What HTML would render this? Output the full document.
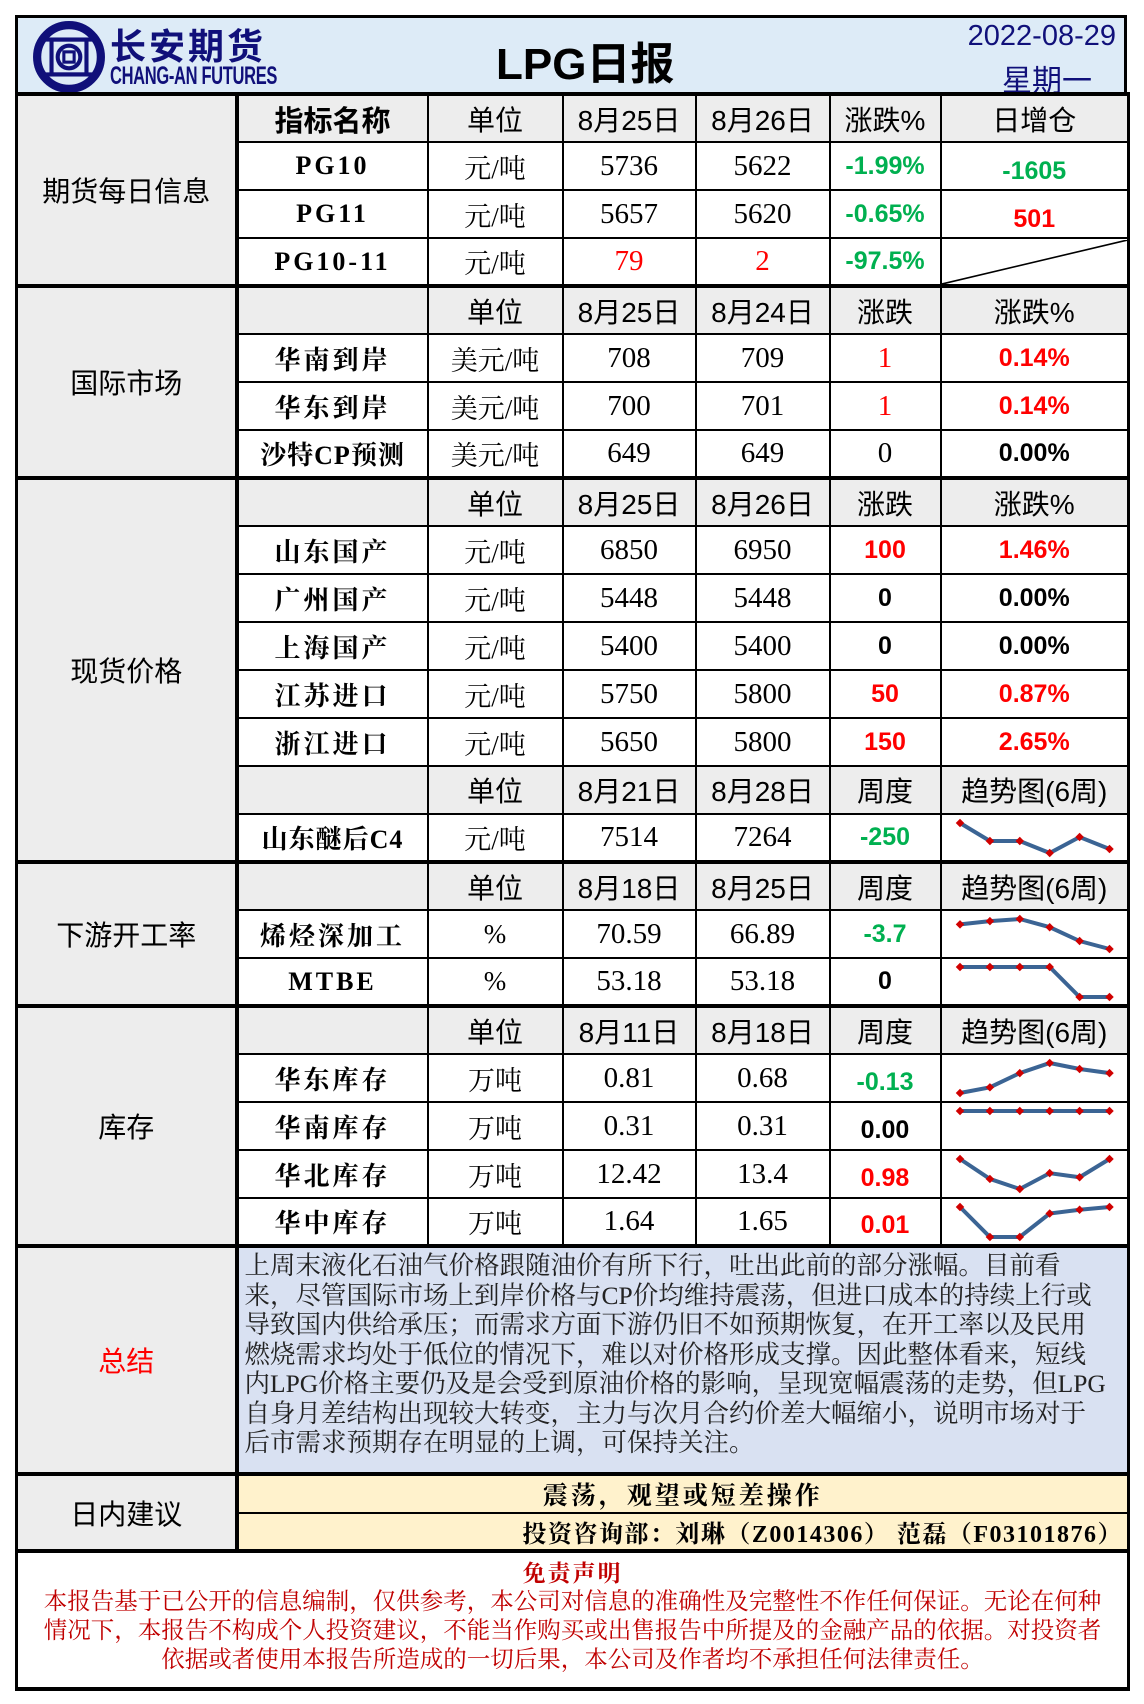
<!DOCTYPE html>
<html><head><meta charset="utf-8">
<style>
*{box-sizing:border-box;margin:0;padding:0}
body{width:1144px;height:1704px;background:#fff;position:relative;overflow:hidden;font-family:"Liberation Serif","Noto Serif CJK SC",serif;}
#hdr{position:absolute;left:15px;top:15px;width:1112px;height:80px;background:#ddebf7;border:3px solid #000;}
#tbl{position:absolute;left:15px;top:92px;width:1112px;border-collapse:collapse;table-layout:fixed;}
#tbl td{border:2px solid #000;height:48px;text-align:center;vertical-align:middle;padding:0;white-space:nowrap;overflow:hidden;}
#tbl tr.sec td{border-top:4px solid #000;}
#tbl td.lab{background:#ededed;font-family:"Liberation Sans","Noto Sans CJK SC",sans-serif;font-size:28px;border-left:3px solid #000;border-right:4px solid #000;}
#tbl td.last{border-right:3px solid #000;}
.h{background:#ededed;font-family:"Liberation Sans","Noto Sans CJK SC",sans-serif;font-size:28px;}
.nm{font-family:"Liberation Serif","Noto Serif CJK SC",serif;font-weight:bold;font-size:26px;letter-spacing:3px;}
.u{font-size:27px;font-family:"Liberation Serif","Noto Serif CJK SC",serif;}
.n{font-size:29px;font-family:"Liberation Serif","Noto Serif CJK SC",serif;}
.p{font-family:"Liberation Sans",sans-serif;font-weight:bold;font-size:25px;}
.g{color:#00b050}.r{color:#ff0000}.k{color:#000}
.spark{display:block;width:100%;height:44px;}
</style></head><body>
<div id="hdr">
  <svg style="position:absolute;left:14px;top:2px" width="74" height="74" viewBox="0 0 72 72">
    <circle cx="36" cy="36" r="31" fill="none" stroke="#10107a" stroke-width="8"/>
    <rect x="19" y="19" width="34" height="34" fill="none" stroke="#10107a" stroke-width="4"/>
    <line x1="10" y1="19" x2="62" y2="19" stroke="#10107a" stroke-width="4"/>
    <line x1="10" y1="53" x2="62" y2="53" stroke="#10107a" stroke-width="4"/>
    <circle cx="36" cy="36" r="11" fill="none" stroke="#10107a" stroke-width="4"/>
    <rect x="31" y="31" width="10" height="10" fill="none" stroke="#10107a" stroke-width="3"/>
  </svg>
  <div style="position:absolute;left:92px;top:0px;font-family:'Liberation Sans','Noto Sans CJK SC',sans-serif;font-weight:bold;font-size:36px;color:#10107a;letter-spacing:3px">长安期货</div>
  <div style="position:absolute;left:92px;top:44px;font-family:'Liberation Sans',sans-serif;font-weight:bold;font-size:25px;color:#10107a;transform:scaleX(0.66);transform-origin:left;letter-spacing:-0.5px;white-space:nowrap">CHANG-AN FUTURES</div>
  <div style="position:absolute;left:478px;top:10px;font-family:'Liberation Sans','Noto Sans CJK SC',sans-serif;font-weight:bold;font-size:44px;color:#000">LPG日报</div>
  <div style="position:absolute;right:8px;top:2px;font-family:'Liberation Sans',sans-serif;font-size:29px;color:#10107a">2022-08-29</div>
  <div style="position:absolute;right:32px;top:38px;font-family:'Liberation Sans','Noto Sans CJK SC',sans-serif;font-size:30px;color:#10107a">星期一</div>
</div>

<table id="tbl">
<colgroup><col style="width:220px"><col style="width:191px"><col style="width:135px"><col style="width:133px"><col style="width:134px"><col style="width:111px"><col style="width:188px"></colgroup>
<tr class="sec">
<td class="lab" rowspan="4">期货每日信息</td>
<td class="h" style="font-weight:bold;font-size:29px">指标名称</td><td class="h">单位</td><td class="h">8月25日</td><td class="h">8月26日</td><td class="h">涨跌%</td><td class="h last">日增仓</td></tr>
<tr><td class="nm">PG10</td><td class="u">元/吨</td><td class="n">5736</td><td class="n">5622</td><td class="p g">-1.99%</td><td class="p g last" style="padding-top:10px">-1605</td></tr>
<tr><td class="nm">PG11</td><td class="u">元/吨</td><td class="n">5657</td><td class="n">5620</td><td class="p g">-0.65%</td><td class="p r last" style="padding-top:10px">501</td></tr>
<tr><td class="nm">PG10-11</td><td class="u">元/吨</td><td class="n r">79</td><td class="n r">2</td><td class="p g">-97.5%</td><td class="last" style="position:relative"><svg width="100%" height="44" viewBox="0 0 100 44" preserveAspectRatio="none" style="display:block"><line x1="0" y1="44" x2="100" y2="0" stroke="#000" stroke-width="1.5"/></svg></td></tr>
<tr class="sec">
<td class="lab" rowspan="4">国际市场</td>
<td class="h"></td><td class="h">单位</td><td class="h">8月25日</td><td class="h">8月24日</td><td class="h">涨跌</td><td class="h last">涨跌%</td></tr>
<tr><td class="nm">华南到岸</td><td class="u">美元/吨</td><td class="n">708</td><td class="n">709</td><td class="n r">1</td><td class="p r last">0.14%</td></tr>
<tr><td class="nm">华东到岸</td><td class="u">美元/吨</td><td class="n">700</td><td class="n">701</td><td class="n r">1</td><td class="p r last">0.14%</td></tr>
<tr><td class="nm" style="letter-spacing:1px">沙特CP预测</td><td class="u">美元/吨</td><td class="n">649</td><td class="n">649</td><td class="n">0</td><td class="p k last">0.00%</td></tr>
<tr class="sec">
<td class="lab" rowspan="8">现货价格</td>
<td class="h"></td><td class="h">单位</td><td class="h">8月25日</td><td class="h">8月26日</td><td class="h">涨跌</td><td class="h last">涨跌%</td></tr>
<tr><td class="nm">山东国产</td><td class="u">元/吨</td><td class="n">6850</td><td class="n">6950</td><td class="p r">100</td><td class="p r last">1.46%</td></tr>
<tr><td class="nm">广州国产</td><td class="u">元/吨</td><td class="n">5448</td><td class="n">5448</td><td class="p k">0</td><td class="p k last">0.00%</td></tr>
<tr><td class="nm">上海国产</td><td class="u">元/吨</td><td class="n">5400</td><td class="n">5400</td><td class="p k">0</td><td class="p k last">0.00%</td></tr>
<tr><td class="nm">江苏进口</td><td class="u">元/吨</td><td class="n">5750</td><td class="n">5800</td><td class="p r">50</td><td class="p r last">0.87%</td></tr>
<tr><td class="nm">浙江进口</td><td class="u">元/吨</td><td class="n">5650</td><td class="n">5800</td><td class="p r">150</td><td class="p r last">2.65%</td></tr>
<tr><td class="h"></td><td class="h">单位</td><td class="h">8月21日</td><td class="h">8月28日</td><td class="h">周度</td><td class="h last">趋势图(6周)</td></tr>
<tr><td class="nm" style="letter-spacing:1px">山东醚后C4</td><td class="u">元/吨</td><td class="n">7514</td><td class="n">7264</td><td class="p g">-250</td><td class="last"><svg class="spark" id="sp-c4"></svg></td></tr>
<tr class="sec">
<td class="lab" rowspan="3">下游开工率</td>
<td class="h"></td><td class="h">单位</td><td class="h">8月18日</td><td class="h">8月25日</td><td class="h">周度</td><td class="h last">趋势图(6周)</td></tr>
<tr><td class="nm">烯烃深加工</td><td class="u">%</td><td class="n">70.59</td><td class="n">66.89</td><td class="p g">-3.7</td><td class="last"><svg class="spark" id="sp-olefin"></svg></td></tr>
<tr><td class="nm">MTBE</td><td class="u">%</td><td class="n">53.18</td><td class="n">53.18</td><td class="p k">0</td><td class="last"><svg class="spark" id="sp-mtbe"></svg></td></tr>
<tr class="sec">
<td class="lab" rowspan="5">库存</td>
<td class="h"></td><td class="h">单位</td><td class="h">8月11日</td><td class="h">8月18日</td><td class="h">周度</td><td class="h last">趋势图(6周)</td></tr>
<tr><td class="nm">华东库存</td><td class="u">万吨</td><td class="n">0.81</td><td class="n">0.68</td><td class="p g" style="padding-top:8px">-0.13</td><td class="last"><svg class="spark" id="sp-east"></svg></td></tr>
<tr><td class="nm">华南库存</td><td class="u">万吨</td><td class="n">0.31</td><td class="n">0.31</td><td class="p k" style="padding-top:8px">0.00</td><td class="last"><svg class="spark" id="sp-south"></svg></td></tr>
<tr><td class="nm">华北库存</td><td class="u">万吨</td><td class="n">12.42</td><td class="n">13.4</td><td class="p r" style="padding-top:8px">0.98</td><td class="last"><svg class="spark" id="sp-north"></svg></td></tr>
<tr><td class="nm">华中库存</td><td class="u">万吨</td><td class="n">1.64</td><td class="n">1.65</td><td class="p r" style="padding-top:8px">0.01</td><td class="last"><svg class="spark" id="sp-central"></svg></td></tr>
<tr class="sec">
<td class="lab" style="height:228px;color:#ff0000">总结</td>
<td colspan="6" class="last" style="height:228px;background:#d9e1f2;text-align:left;vertical-align:top;padding:3px 0 0 6px;font-size:25.5px;line-height:29.5px;color:#222">上周末液化石油气价格跟随油价有所下行，吐出此前的部分涨幅。目前看<br>来，尽管国际市场上到岸价格与CP价均维持震荡，但进口成本的持续上行或<br>导致国内供给承压；而需求方面下游仍旧不如预期恢复，在开工率以及民用<br>燃烧需求均处于低位的情况下，难以对价格形成支撑。因此整体看来，短线<br>内LPG价格主要仍及是会受到原油价格的影响，呈现宽幅震荡的走势，但LPG<br>自身月差结构出现较大转变，主力与次月合约价差大幅缩小，说明市场对于<br>后市需求预期存在明显的上调，可保持关注。</td></tr>
<tr class="sec">
<td class="lab" rowspan="2" style="height:76px">日内建议</td>
<td colspan="6" class="last" style="height:39px;background:#fff2cc;font-weight:bold;font-size:25px;letter-spacing:3px">震荡，观望或短差操作</td></tr>
<tr><td colspan="6" class="last" style="height:37px;background:#fff2cc;font-weight:bold;font-size:24px;letter-spacing:1.5px;text-align:right;padding-right:4px">投资咨询部：刘琳（Z0014306） 范磊（F03101876）</td></tr>
<tr class="sec">
<td colspan="7" style="height:138px;border-left:3px solid #000;border-right:3px solid #000;border-bottom:4px solid #000;color:#c00000;font-size:23.5px;line-height:29px;vertical-align:top;padding-top:6px">
<div style="font-weight:bold;font-size:23px;letter-spacing:2px">免责声明</div>
<div>本报告基于已公开的信息编制，仅供参考，本公司对信息的准确性及完整性不作任何保证。无论在何种</div>
<div>情况下，本报告不构成个人投资建议，不能当作购买或出售报告中所提及的金融产品的依据。对投资者</div>
<div>依据或者使用本报告所造成的一切后果，本公司及作者均不承担任何法律责任。</div>
</td></tr>
</table>

<script>
const weeks = ["w1","w2","w3","w4","w5","w6"];
const c4Values = [7806, 7431, 7431, 7181, 7514, 7264];
const olefinValues = [78.3, 79.8, 80.8, 77.0, 70.59, 66.89];
const mtbeValues = [62, 62, 62, 62, 53.18, 53.18];
const eastInvValues = [0.05, 0.23, 0.68, 1.0, 0.81, 0.68];
const southInvValues = [0.31, 0.31, 0.31, 0.31, 0.31, 0.31];
const northInvValues = [13.4, 12.33, 11.79, 12.64, 12.42, 13.4];
const centralInvValues = [1.65, 1.54, 1.54, 1.626, 1.64, 1.65];

function drawSpark(id, vals){
  const svg = document.getElementById(id);
  const NS = "http://www.w3.org/2000/svg";
  const W = svg.getBoundingClientRect().width || 186, H = 44;
  const x0 = 18, x1 = W - 18, yTop = 7, yBot = 37;
  const mn = Math.min(...vals), mx = Math.max(...vals);
  const xs = i => x0 + (x1 - x0) * i / (weeks.length - 1);
  const ys = v => mx === mn ? yTop : yBot - (v - mn) / (mx - mn) * (yBot - yTop);
  const line = document.createElementNS(NS, "polyline");
  
  
  line.setAttribute("points", vals.map((v,i)=>xs(i)+","+ys(v)).join(" "));
  line.setAttribute("fill","none"); line.setAttribute("stroke","#3b6494"); line.setAttribute("stroke-width","4");
  svg.appendChild(line);
  vals.forEach((v,i)=>{
    const m = document.createElementNS(NS, "rect");
    
    
    const cx = xs(i), cy = ys(v);
    m.setAttribute("x", cx-3); m.setAttribute("y", cy-3); m.setAttribute("width",6); m.setAttribute("height",6);
    m.setAttribute("fill","#d00000");
    m.setAttribute("transform","rotate(45 "+cx+" "+cy+")");
    svg.appendChild(m);
  });
}
drawSpark("sp-c4", c4Values);
drawSpark("sp-olefin", olefinValues);
drawSpark("sp-mtbe", mtbeValues);
drawSpark("sp-east", eastInvValues);
drawSpark("sp-south", southInvValues);
drawSpark("sp-north", northInvValues);
drawSpark("sp-central", centralInvValues);
</script>
</body></html>
